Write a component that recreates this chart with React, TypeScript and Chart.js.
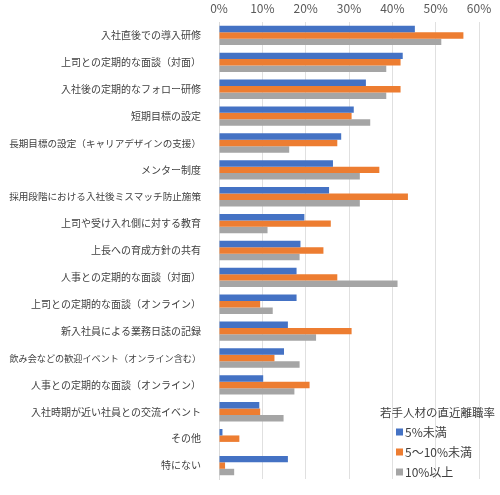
import React, { useEffect, useRef } from "react";
import { Chart, registerables } from "chart.js";

Chart.register(...registerables);

const categories = [
  "入社直後での導入研修",
  "上司との定期的な面談（対面）",
  "入社後の定期的なフォロー研修",
  "短期目標の設定",
  "長期目標の設定（キャリアデザインの支援）",
  "メンター制度",
  "採用段階における入社後ミスマッチ防止施策",
  "上司や受け入れ側に対する教育",
  "上長への育成方針の共有",
  "人事との定期的な面談（対面）",
  "上司との定期的な面談（オンライン）",
  "新入社員による業務日誌の記録",
  "飲み会などの歓迎イベント（オンライン含む）",
  "人事との定期的な面談（オンライン）",
  "入社時期が近い社員との交流イベント",
  "その他",
  "特にない",
];

const seriesLabels = ["5%未満", "5～10%未満", "10%以上"];
const under5 = [45.2, 42.4, 33.9, 31.1, 28.2, 26.3, 25.4, 19.7, 18.8, 17.9, 17.9, 15.9, 15.0, 10.2, 9.3, 0.8, 15.9];
const from5to10 = [56.4, 41.9, 41.9, 30.6, 27.3, 37.0, 43.6, 25.8, 24.1, 27.3, 9.5, 30.6, 12.8, 20.9, 9.5, 4.7, 1.4];
const over10 = [51.3, 38.6, 38.6, 34.9, 16.2, 32.5, 32.5, 11.2, 18.6, 41.2, 12.4, 22.4, 18.6, 17.4, 14.9, 0, 3.5];
const xTicks = [0, 10, 20, 30, 40, 50, 60];
const legendTitle = "若手人材の直近離職率";

const colors = ["#4472C4", "#ED7D31", "#A5A5A5"];
const FONT = "'Noto Sans CJK JP', 'Noto Sans', sans-serif";

const legendPlugin = {
  id: "insideLegend",
  afterDraw(chart: any) {
    const ctx = chart.ctx;
    ctx.save();
    ctx.font = `11.5px ${FONT}`;
    ctx.fillStyle = "#404040";
    ctx.textBaseline = "middle";
    ctx.textAlign = "left";
    ctx.fillText(legendTitle, 380, 413);
    ctx.font = `12px ${FONT}`;
    chart.data.datasets.forEach((ds: any, i: number) => {
      const y = 432 + i * 20;
      ctx.fillStyle = ds.backgroundColor;
      ctx.fillRect(396, y - 3.5, 7, 7);
      ctx.fillStyle = "#404040";
      ctx.fillText(ds.label, 405, y);
    });
    ctx.restore();
  },
};

export default function App() {
  const ref = useRef<HTMLCanvasElement | null>(null);
  useEffect(() => {
    document.body.style.margin = "0";
    const chart = new Chart(ref.current as HTMLCanvasElement, {
      type: "bar",
      data: {
        labels: categories,
        datasets: [under5, from5to10, over10].map((d, i) => ({
          label: seriesLabels[i],
          data: d,
          backgroundColor: colors[i],
          barPercentage: 1,
          categoryPercentage: 0.72,
        })),
      },
      options: {
        indexAxis: "y",
        animation: false,
        responsive: false,
        layout: { padding: { left: 0, right: 21, top: 0, bottom: 5 } },
        plugins: { legend: { display: false }, tooltip: { enabled: false } },
        scales: {
          x: {
            position: "top",
            min: 0,
            max: 60,
            afterBuildTicks(scale: any) {
              scale.ticks = xTicks.map((v) => ({ value: v }));
            },
            afterFit(scale: any) {
              scale.height = 22;
            },
            ticks: {
              callback: (v: any) => v + "%",
              color: "#595959",
              font: { family: FONT, size: 12 },
              padding: 6,
              maxRotation: 0,
            },
            grid: { color: "#E0E0E0", drawTicks: false },
            border: { display: false },
          },
          y: {
            afterFit(scale: any) {
              scale.width = 219;
            },
            ticks: {
              color: "#404040",
              font: (c: any) => {
                const lbl = categories[c.index] || "";
                return { family: FONT, size: Math.min(10, 192 / Math.max(1, lbl.length)) };
              },
              padding: 10,
              autoSkip: false,
            },
            grid: { display: false },
            border: { color: "#D9D9D9" },
          },
        },
      },
      plugins: [legendPlugin],
    });
    return () => chart.destroy();
  }, []);
  return <canvas ref={ref} width={500} height={495} style={{ display: "block" }} />;
}
